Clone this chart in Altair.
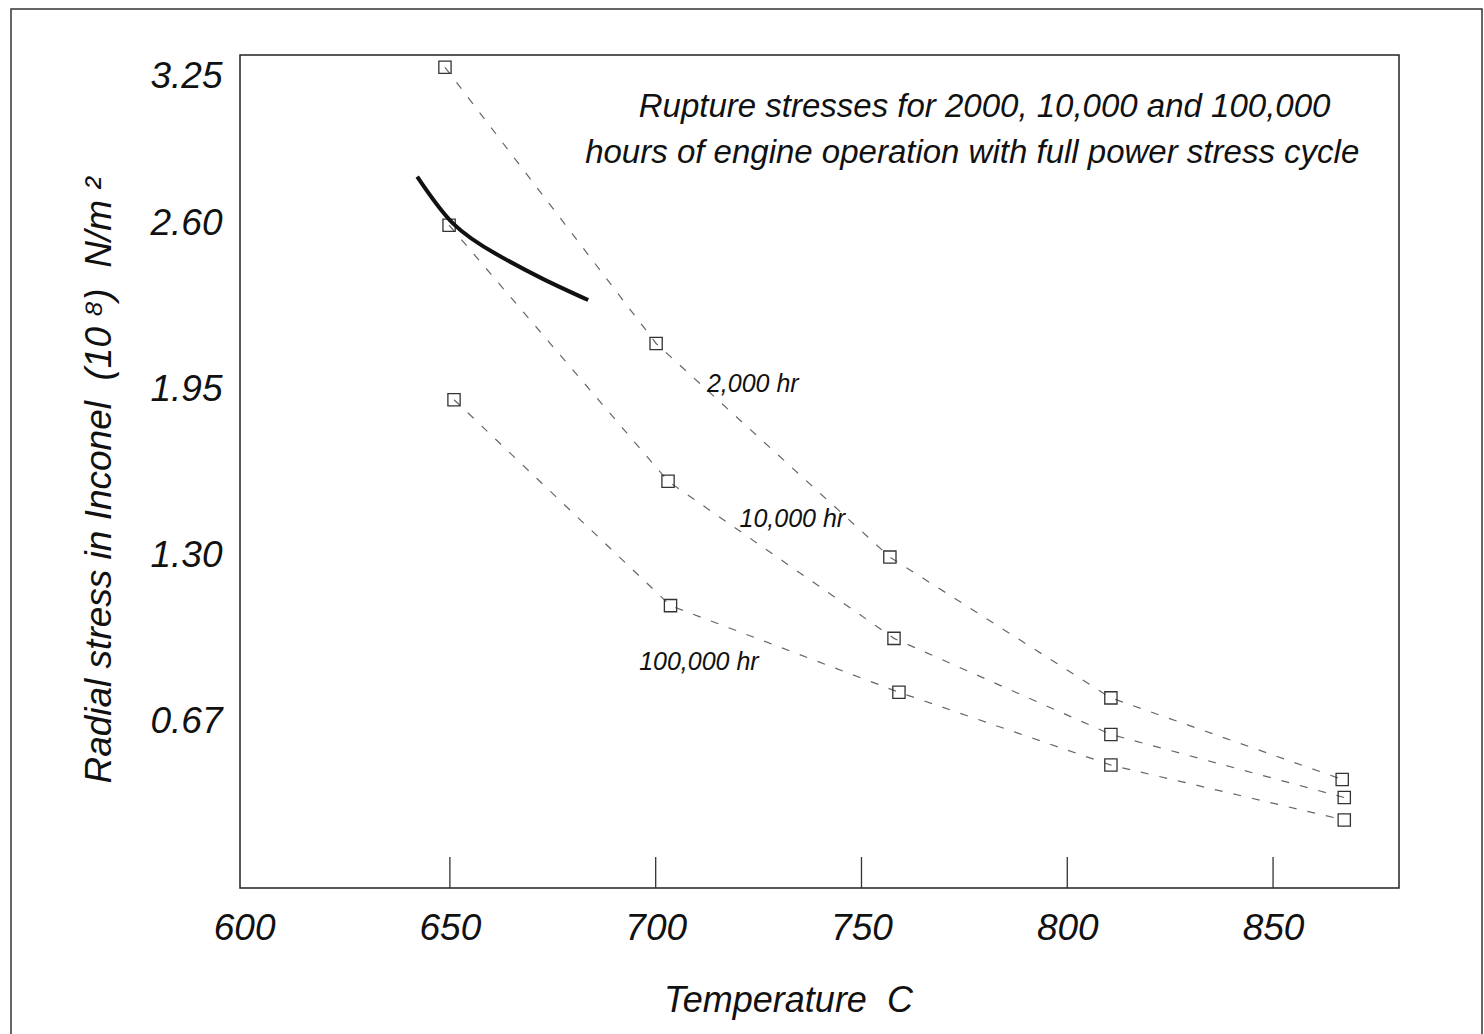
import altair as alt
import pandas as pd

FONT = "Liberation Sans"
NB = "\u00a0"

# ---- data ----
temps_2000 = [648.8, 700.1, 756.9, 810.6, 866.8]
stress_2000 = [3.212, 2.131, 1.295, 0.744, 0.425]
temps_10000 = [649.8, 703.0, 757.9, 810.6, 867.3]
stress_10000 = [2.594, 1.592, 0.977, 0.601, 0.354]
temps_100000 = [651.0, 703.6, 759.1, 810.6, 867.3]
stress_100000 = [1.911, 1.105, 0.766, 0.481, 0.266]

curve_temps = [642.05, 650.8, 661.35, 672.7, 683.6]
curve_stress = [2.784, 2.600, 2.480, 2.383, 2.301]

x_tick_values = [600, 650, 700, 750, 800, 850]
x_tick_marks = [650, 700, 750, 800, 850]
y_tick_values = [0.65, 1.30, 1.95, 2.60, 3.25]
y_tick_labels = ["0.67", "1.30", "1.95", "2.60", "3.25"]

series_labels = ["2,000 hr", "10,000 hr", "100,000 hr"]
series_label_temps = [723.6, 733.2, 710.5]
series_label_stress = [1.974, 1.446, 0.884]

note_lines = ["Rupture stresses for 2000, 10,000 and 100,000",
              "hours of engine operation with full power stress cycle"]
note_temps = [779.9, 776.9]
note_stress = [3.056, 2.876]

# ---- tables ----
rows = []
for name, ts, ss in [("2000", temps_2000, stress_2000),
                     ("10000", temps_10000, stress_10000),
                     ("100000", temps_100000, stress_100000)]:
    for i, (t, s) in enumerate(zip(ts, ss)):
        rows.append({"series": name, "idx": i, "temp": t, "stress": s})
df = pd.DataFrame(rows)
curve_df = pd.DataFrame({"temp": curve_temps, "stress": curve_stress,
                         "idx": list(range(len(curve_temps)))})
lab_df = pd.DataFrame({"temp": series_label_temps, "stress": series_label_stress,
                       "text": series_labels})
note_df = pd.DataFrame({"temp": note_temps, "stress": note_stress, "text": note_lines})
tick_df = pd.DataFrame({"temp": x_tick_marks})

W, H = 1159, 833
TXT = "#111111"

label_expr = " : ".join(
    f"abs(datum.value - {v}) < 0.001 ? '{l}'" for v, l in zip(y_tick_values, y_tick_labels)
) + " : datum.label"

X = alt.X("temp:Q",
          scale=alt.Scale(domain=[599, 880.6], nice=False, zero=False),
          axis=alt.Axis(values=x_tick_values, ticks=False, domain=False, grid=False,
                        labelFontSize=37, labelPadding=22, labelFlush=False,
                        title=f"Temperature{NB}{NB}C", titleFontSize=36,
                        titleX=548, titleY=112, titleBaseline="middle"))
Y = alt.Y("stress:Q",
          scale=alt.Scale(domain=[0, 3.26], nice=False, zero=False),
          axis=alt.Axis(values=y_tick_values, labelExpr=label_expr, ticks=False, tickSize=0,
                        domain=False, grid=False, labelFontSize=37, labelPadding=18,
                        labelFlush=False,
                        labelOffset={"condition": {"test": "datum.value > 3.2", "value": 19},
                                     "value": 0},
                        title=f"Radial stress in Inconel{NB}{NB}(10{NB}\u2078){NB}{NB}N/m{NB}\u00b2",
                        titleFontSize=37, titleX=-141, titleY=425,
                        titleBaseline="middle", titleAlign="center", titleAngle=-90))

frame = alt.Chart(pd.DataFrame({"a": [0]})).mark_rect(
    fill=None, stroke="#333333", strokeWidth=1.5
).encode(x=alt.value(-229), x2=alt.value(1242), y=alt.value(-46), y2=alt.value(1000))

lines = alt.Chart(df).mark_line(color="#666666", strokeWidth=1.2, strokeDash=[8, 11]).encode(
    x=X, y=Y, detail="series:N", order="idx:Q")

points = alt.Chart(df).mark_point(shape="square", size=150, filled=False,
                                  color="#333333", strokeWidth=1.3, opacity=1).encode(x=X, y=Y)

curve = alt.Chart(curve_df).mark_line(color="#111111", strokeWidth=4,
                                      interpolate="natural").encode(x=X, y=Y, order="idx:Q")

ticks = alt.Chart(tick_df).mark_rule(color="#333333", strokeWidth=1.3).encode(
    x=X, y=alt.value(H - 31), y2=alt.value(H))

labels = alt.Chart(lab_df).mark_text(font=FONT, fontSize=25, fontStyle="italic",
                                     color=TXT, align="center", baseline="middle").encode(
    x=X, y=Y, text="text:N")

notes = alt.Chart(note_df).mark_text(font=FONT, fontSize=33, fontStyle="italic",
                                     color=TXT, align="center", baseline="middle").encode(
    x=X, y=Y, text="text:N")

chart = alt.layer(frame, lines, points, curve, ticks, labels, notes).properties(
    width=W, height=H,
    autosize=alt.AutoSizeParams(type="none"),
    padding={"left": 240, "top": 55, "right": 85, "bottom": 146},
    background="white",
).configure_view(stroke="#222222", strokeWidth=1.5).configure_axis(
    labelFont=FONT, labelFontStyle="italic", labelColor=TXT, labelFontWeight="normal",
    titleFont=FONT, titleFontStyle="italic", titleColor=TXT, titleFontWeight="normal",
)

chart.save("out.html", embed_options={"renderer": "svg", "actions": False})
